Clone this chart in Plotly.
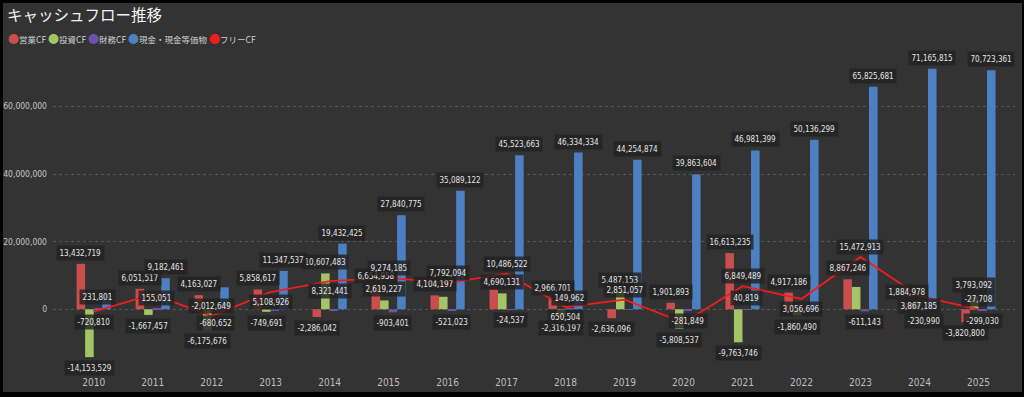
import plotly.graph_objects as go

years = [str(y) for y in range(2010, 2026)]
operating_cf = [13432719, 6051517, 4163027, 5858617, -2286042, 6654958, 4104197, 5796391,
                2966701, -2636096, 1901893, 16613235, 4917186, 8867246, 1884978, -3820800]
investing_cf = [-14153529, -1667457, -6175676, -749691, 10607483, 2619227, 3687897, 4690131,
                -2316197, 5487153, -5808537, -9763746, -1860490, 6605667, 1982207, 3793092]
financing_cf = [231801, 155051, -680652, -250549, -236553, -903401, -521023, -24537,
                149962, -60000, -281849, 40819, 98204, -611143, -230990, -299030]
cash_eq = [4643350, 9182461, 6489160, 11347537, 19432425, 27840775, 35089122, 45523663,
           46334334, 44254874, 39863604, 46981399, 50136299, 65825681, 71165815, 70723361]
free_cf = [-720810, 4384060, -2012649, 5108926, 8321441, 9274185, 7792094, 10486522,
           650504, 2851057, -3906644, 6849489, 3056696, 15472913, 3867185, -27708]

y_ticks = [0, 20000000, 40000000, 60000000]

series_names = ["営業CF", "投資CF", "財務CF", "現金・現金等価物"]
series_values = [operating_cf, investing_cf, financing_cf, cash_eq]
series_colors = ["#C94F4F", "#A3C566", "#6F52AE", "#4C80C2"]
line_name = "フリーCF"
line_color = "#F21C1C"

# labels that the reference hides (overlap suppression)
hidden_labels = {
    "営業CF": ["2017"],
    "投資CF": ["2016", "2023", "2024"],
    "財務CF": ["2013", "2014", "2019", "2022"],
    "現金・現金等価物": ["2010", "2012"],
    "フリーCF": ["2011", "2020"],
}
# free-CF label placement: True = above the point
free_label_above = [False, True, True, False, False, True, True, True,
                    False, True, True, True, False, True, False, True]

BARGAP = 0.42
num_font = "Liberation Sans Narrow, DejaVu Sans Condensed, Roboto, sans-serif"
label_style = dict(font=dict(family=num_font, size=8, color="#E4E4E4"),
                   bgcolor="rgba(34,34,34,0.82)", borderpad=2.5)

fig = go.Figure()
for name, vals, col in zip(series_names, series_values, series_colors):
    fig.add_trace(go.Bar(
        x=years, y=vals, name=name, marker=dict(color=col, line=dict(color=col, width=0)),
        showlegend=False, hoverinfo="x+y+name"))

fig.add_trace(go.Scatter(x=years, y=free_cf, mode="lines", name=line_name,
                         line=dict(color=line_color, width=1.8), showlegend=False))

annotations = []
bw = (1 - BARGAP) / len(series_names)
n = len(series_names)
for si, (name, vals) in enumerate(zip(series_names, series_values)):
    off = (si - (n - 1) / 2) * bw
    for i, v in enumerate(vals):
        if years[i] in hidden_labels[name]:
            continue
        annotations.append(dict(
            x=i + off, y=v, xref="x", yref="y", text=f"{v:,}", showarrow=False,
            yshift=11 if v >= 0 else -11, yanchor="middle", xanchor="center",
            **label_style))
for i, v in enumerate(free_cf):
    if years[i] in hidden_labels[line_name]:
        continue
    annotations.append(dict(
        x=i, y=v, xref="x", yref="y", text=f"{v:,}", showarrow=False,
        yshift=10 if free_label_above[i] else -10, yanchor="middle", xanchor="center",
        **label_style))

# legend as compact text row
legend_parts = []
for name, col in zip(series_names + [line_name], series_colors + [line_color]):
    legend_parts.append(f'<span style="color:{col};font-size:11px">●</span>{name}')
annotations.append(dict(
    x=0, y=1, xref="paper", yref="paper", xanchor="left", yanchor="middle",
    xshift=-47, yshift=17, showarrow=False, align="left",
    text=" ".join(legend_parts),
    font=dict(family="Noto Sans CJK JP, Noto Sans, sans-serif", size=8.5, color="#CFCFCF")))

W, H = 1019, 389
fig.update_layout(
    width=W, height=H,
    barmode="group", bargap=BARGAP, bargroupgap=0,
    paper_bgcolor="#333333", plot_bgcolor="#333333",
    margin=dict(l=50, r=7, t=52, b=22),
    title=dict(text="キャッシュフロー推移", x=0.004, xref="container", xanchor="left",
               y=0.967, yref="container", yanchor="middle",
               font=dict(family="Noto Sans CJK JP, sans-serif", size=15.5, color="#F2F2F2")),
    annotations=annotations,
    xaxis=dict(type="category", range=[-0.69, 15.62], showgrid=False, zeroline=False,
               showline=False, ticks="", ticklabelstandoff=5, automargin=False,
               tickfont=dict(family=num_font, size=10, color="#BDBDBD")),
    yaxis=dict(range=[-17960000, 75200000], tickvals=y_ticks, automargin=False,
               ticktext=[f"{t:,}" for t in y_ticks], showgrid=True,
               gridcolor="#575757", griddash="dot", gridwidth=1, zeroline=False,
               ticks="", ticklabelstandoff=5,
               tickfont=dict(family=num_font, size=8.5, color="#C8C8C8")),
    showlegend=False,
)

fig.write_html("out.html", post_script=(
    "document.documentElement.style.background='#000';"
    "document.body.style.margin='0';"
    "document.body.style.padding='3px 0 0 3px';"
    "document.body.style.background='#000';"))
